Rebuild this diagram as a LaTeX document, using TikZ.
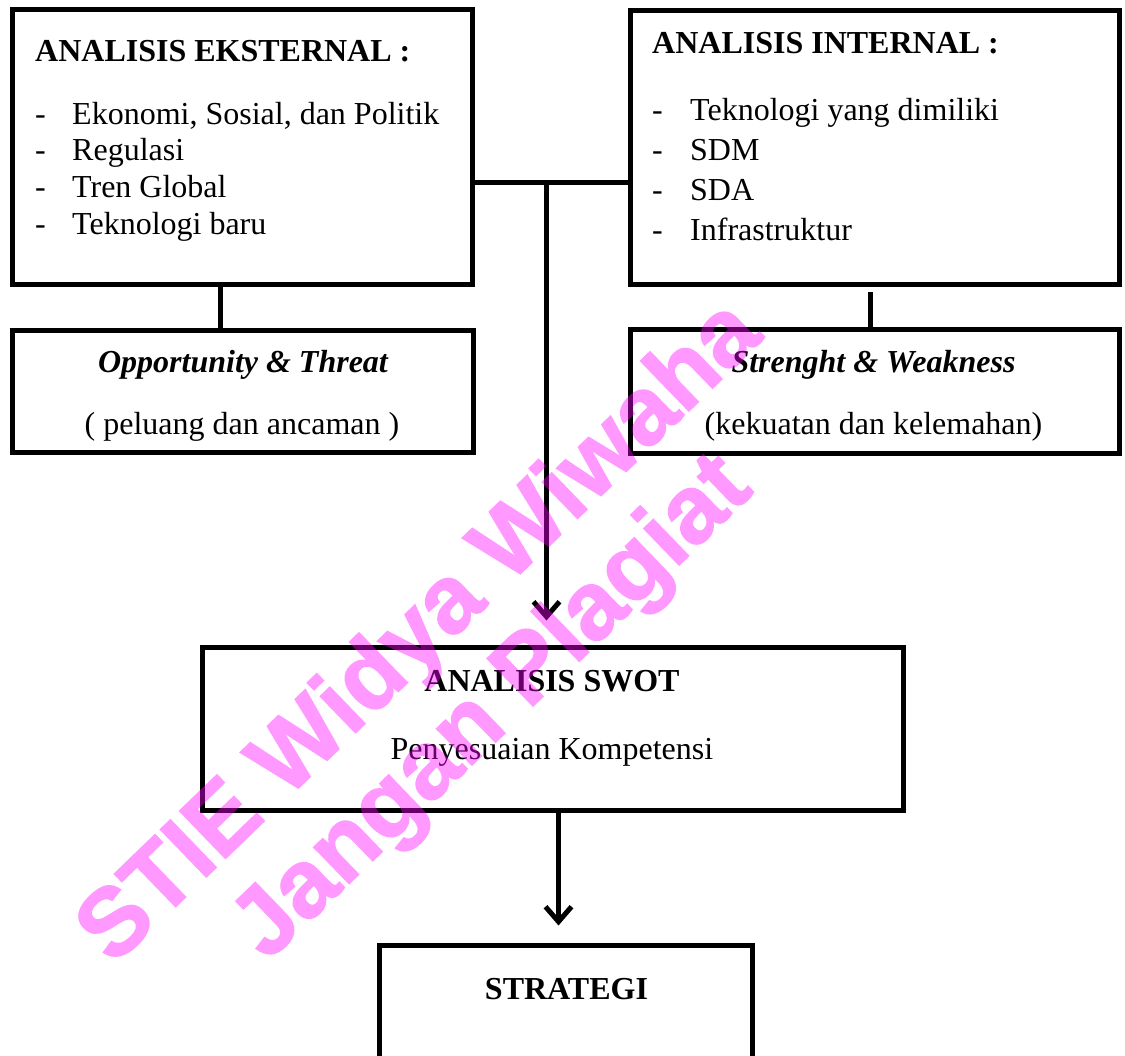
\documentclass[tikz,border=0pt]{standalone}
\usepackage{fontspec}
\setmainfont{Liberation Serif}
\newfontfamily\wmfont[BoldFeatures={FakeBold=1.5}]{Liberation Sans}
\usetikzlibrary{arrows.meta}
\definecolor{wmpink}{RGB}{255,0,255}
\begin{document}
\begin{tikzpicture}[x=1pt,y=-1pt,
  box/.style={draw, line width=5pt, inner sep=0pt},
  txt/.style={font=\fontsize{32}{38}\selectfont, inner sep=0pt},
  link/.style={line width=5pt},
  arr/.style={line width=5pt, -{Straight Barb[length=15pt,width=26pt]}},
  wm/.style={text=wmpink, font=\wmfont\bfseries\fontsize{96}{104}\selectfont, align=center, inner sep=0pt}]
\useasboundingbox (0,0) rectangle (1125,1056);
\clip (0,0) rectangle (1125,1056);
% boxes
\node[box, minimum width=460pt, minimum height=275pt] (ext) at (242.5,147) {};
\node[box, minimum width=489.5pt, minimum height=274pt] (int) at (874.75,147.5) {};
\node[box, minimum width=460.5pt, minimum height=122pt] (ot) at (242.75,391.5) {};
\node[box, minimum width=489.5pt, minimum height=123.5pt] (sw) at (874.75,391.75) {};
\node[box, minimum width=700.5pt, minimum height=163.5pt] (swot) at (552.75,728.75) {};
\node[box, minimum width=373pt, minimum height=200pt] (strat) at (566,1045.5) {};
% connector coordinates
\coordinate (cl) at (220.5,0);
\coordinate (cr) at (870.5,0);
\coordinate (j) at (546.5,182.5);
\coordinate (cs) at (558.5,0);
% connectors
\draw[link] (ext.south -| cl) -- (ot.north -| cl);
\draw[link, shorten <=5.5pt] (int.south -| cr) -- (sw.north -| cr);
\draw[link] (ext.east |- j) -- (int.west |- j);
\draw[arr, shorten >=24pt] (j) -- (j |- swot.north);
\draw[arr, shorten >=17.5pt] (swot.south -| cs) -- (strat.north -| cs);
% texts external
\node[txt, anchor=base west] (exth) at (35,62) {\bfseries ANALISIS EKSTERNAL :};
\node[txt, anchor=base west] (ed1) at (35,125) {-};
\node[txt, anchor=base west] (ed2) at (35,161) {-};
\node[txt, anchor=base west] (ed3) at (35,198) {-};
\node[txt, anchor=base west] (ed4) at (35,235) {-};
\node[txt, anchor=base west] (e1) at (72,125) {Ekonomi, Sosial, dan Politik};
\node[txt, anchor=base west] (e2) at (72,161) {Regulasi};
\node[txt, anchor=base west] (e3) at (72,198) {Tren Global};
\node[txt, anchor=base west] (e4) at (72,235) {Teknologi baru};
% texts internal
\node[txt, anchor=base west] (inth) at (652,54) {\bfseries ANALISIS INTERNAL :};
\node[txt, anchor=base west] (id1) at (652,121) {-};
\node[txt, anchor=base west] (id2) at (652,161) {-};
\node[txt, anchor=base west] (id3) at (652,201) {-};
\node[txt, anchor=base west] (id4) at (652,241) {-};
\node[txt, anchor=base west] (i1) at (690,121) {Teknologi yang dimiliki};
\node[txt, anchor=base west] (i2) at (690,161) {SDM};
\node[txt, anchor=base west] (i3) at (690,201) {SDA};
\node[txt, anchor=base west] (i4) at (690,241) {Infrastruktur};
% lower boxes
\node[txt, anchor=base] (ot1) at (243,373) {\bfseries\itshape Opportunity \& Threat};
\node[txt, anchor=base] (ot2) at (242,435) {( peluang dan ancaman )};
\node[txt, anchor=base] (sw1) at (873.5,373) {\bfseries\itshape Strenght \& Weakness};
\node[txt, anchor=base] (sw2) at (873.5,435) {(kekuatan dan kelemahan)};
% swot and strategi
\node[txt, anchor=base] (swot1) at (552,691) {\bfseries ANALISIS SWOT};
\node[txt, anchor=base] (swot2) at (552,759) {Penyesuaian Kompetensi};
\node[txt, anchor=base] (strat1) at (566.5,999) {\bfseries STRATEGI};
% watermark
\begin{scope}[transparency group, opacity=0.4]
\node[wm, rotate=44] (mark) at (458,672) {STIE Widya Wiwaha\\Jangan Plagiat};
\end{scope}
\end{tikzpicture}
\end{document}
